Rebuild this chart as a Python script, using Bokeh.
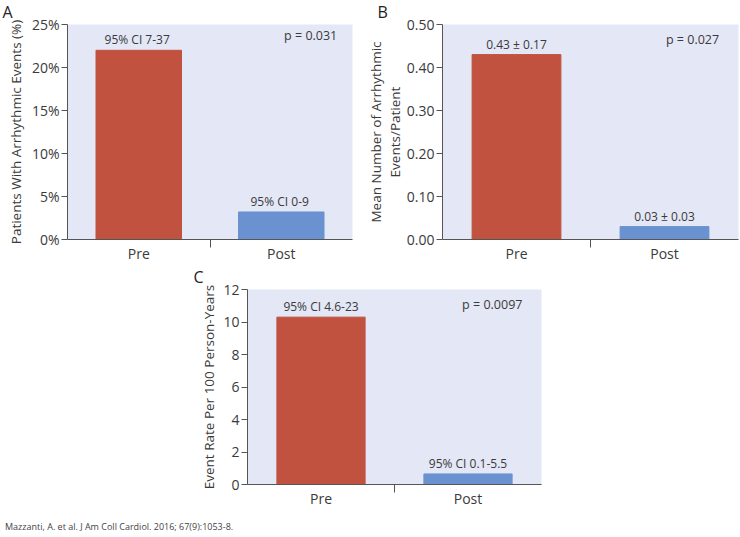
from bokeh.plotting import figure
from bokeh.models import (FixedTicker, CustomJSTickFormatter, PrintfTickFormatter,
                          Label, Range1d, Div, Spacer)
from bokeh.layouts import column, row
from bokeh.embed import file_html
from bokeh.resources import INLINE
from bokeh.core.properties import value

# ---------------- data ----------------
categories = ["Pre", "Post"]

a_values = [22.0, 3.2]
a_labels = ["95% CI  7-37", "95% CI  0-9"]
a_ticks = [0, 5, 10, 15, 20, 25]
a_ylabel = "Patients With Arrhythmic Events (%)"
a_p = "p = 0.031"

b_values = [0.43, 0.03]
b_labels = ["0.43 ± 0.17", "0.03 ± 0.03"]
b_ticks = [0.0, 0.1, 0.2, 0.3, 0.4, 0.5]
b_ylabel = "Mean Number of Arrhythmic\nEvents/Patient"
b_p = "p = 0.027"

c_values = [10.3, 0.65]
c_labels = ["95% CI 4.6-23", "95% CI 0.1-5.5"]
c_ticks = [0, 2, 4, 6, 8, 10, 12]
c_ylabel = "Event Rate Per 100 Person-Years"
c_p = "p = 0.0097"

source_note = "Mazzanti, A. et al. J Am Coll Cardiol. 2016; 67(9):1053-8."

# ---------------- style ----------------
FONT = "Open Sans"
TXT = "#3a3a3a"
AX = "#555555"
BG = "#e4e7f5"
BAR_COLORS = ["#c0523f", "#6a92d0"]


def panel(values, labels, ticks, fmt, ylabel, ptext, pxy, letter, letter_offset,
          letter_lh, width, height, borders, label_standoff):
    n = len(categories)
    centers = [i + 0.5 for i in range(n)]
    seps = [float(i) for i in range(1, n)]
    p = figure(width=width, height=height, output_backend="svg", toolbar_location=None,
               x_range=Range1d(0, n), y_range=Range1d(0, ticks[-1]),
               min_border_left=borders[0], min_border_right=borders[1],
               min_border_top=borders[2], min_border_bottom=borders[3])
    p.background_fill_color = BG
    p.border_fill_color = "white"
    p.outline_line_color = None
    p.grid.visible = False

    # panel letter as the figure title
    p.title.text = letter
    p.title.align = "left"
    p.title.vertical_align = "top"
    p.title.offset = letter_offset
    p.title.standoff = 0
    p.title.text_font = FONT
    p.title.text_font_size = "16px"
    p.title.text_line_height = letter_lh
    p.title.text_font_style = "normal"
    p.title.text_color = "#222"

    p.vbar(x=centers, top=values, width=0.6, fill_color=BAR_COLORS,
           line_color=BAR_COLORS)
    p.text(x=centers, y=values, text=labels, text_align="center",
           text_baseline="bottom", y_offset=-2, text_font=value(FONT),
           text_font_size="12px", text_color=TXT)

    p.add_layout(Label(x=pxy[0], y=pxy[1], text=ptext, text_align="left",
                       text_baseline="middle", text_font=FONT,
                       text_font_size="12.5px", text_color=TXT))

    xa = p.xaxis[0]
    xa.ticker = FixedTicker(ticks=centers, minor_ticks=seps)
    xa.formatter = CustomJSTickFormatter(args=dict(labels=categories),
                                         code="return labels[Math.floor(tick)];")
    xa.major_tick_out = 0
    xa.major_tick_in = 0
    xa.minor_tick_out = 8
    xa.minor_tick_in = 0
    xa.minor_tick_line_color = AX
    xa.axis_line_color = AX
    xa.major_label_text_font = FONT
    xa.major_label_text_font_size = "14px"
    xa.major_label_text_color = TXT
    xa.major_label_standoff = -4

    ya = p.yaxis[0]
    ya.ticker = FixedTicker(ticks=ticks, minor_ticks=[])
    ya.formatter = fmt
    ya.major_tick_out = 6
    ya.major_tick_in = 0
    ya.minor_tick_out = 0
    ya.minor_tick_in = 0
    ya.axis_line_color = AX
    ya.major_tick_line_color = AX
    ya.major_label_text_font = FONT
    ya.major_label_text_font_size = "14px"
    ya.major_label_text_color = TXT
    ya.major_label_standoff = 2
    ya.axis_label = ylabel
    ya.axis_label_text_font = FONT
    ya.axis_label_text_font_size = "13.5px"
    ya.axis_label_text_font_style = "normal"
    ya.axis_label_text_color = TXT
    ya.axis_label_text_line_height = 1.05
    ya.axis_label_standoff = label_standoff
    return p


pa = panel(a_values, a_labels, a_ticks, PrintfTickFormatter(format="%d%%"),
           a_ylabel, a_p, (1.52, 23.7), "A", -65, 0.9,
           362, 265, (67, 10, 24, 23), 4)
pb = panel(b_values, b_labels, b_ticks, PrintfTickFormatter(format="%.2f"),
           b_ylabel, b_p, (1.51, 0.466), "B", -65, 0.75,
           378, 265, (80, 2, 21, 26), 0)
pc = panel(c_values, c_labels, c_ticks, PrintfTickFormatter(format="%d"),
           c_ylabel, c_p, (1.46, 11.1), "C", -54, 0.7,
           371, 245, (67, 10, 20, 25), 2)

footer = Div(text=source_note, width=420, height=27,
             styles={"font-size": "9px", "color": "#444", "font-family": FONT,
                     "padding-top": "6px", "line-height": "12px"})

layout = column(row(pa, pb), row(Spacer(width=180, height=245), pc), footer)

open("out.html", "w").write(file_html(layout, INLINE))
